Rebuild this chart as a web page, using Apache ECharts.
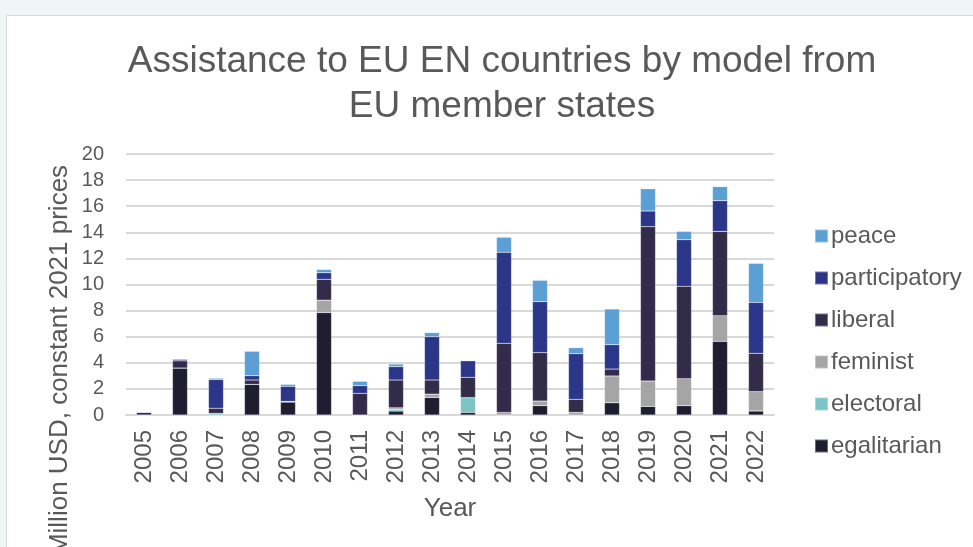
<!DOCTYPE html>
<html>
<head>
<meta charset="utf-8">
<script src="https://cdn.jsdelivr.net/npm/echarts@6/dist/echarts.min.js"></script>
<style>
  html, body { margin: 0; padding: 0; background: #eef6f8; }
  #chart { width: 973px; height: 547px; }
</style>
</head>
<body>
<div id="chart"></div>
<script>
// Years on the category axis
const years = ['2005','2006','2007','2008','2009','2010','2011','2012','2013','2014',
               '2015','2016','2017','2018','2019','2020','2021','2022'];

// Assistance by model, million USD (constant 2021 prices)
const egalitarian   = [0,    3.6,  0,    2.35, 1.0,  7.85, 0,    0.3,  1.35, 0.2,  0,    0.72, 0,    0.94, 0.66, 0.72, 5.65, 0.31];
const electoral     = [0,    0,    0.12, 0,    0,    0,    0,    0.13, 0,    1.13, 0,    0,    0,    0,    0,    0,    0,    0];
const feminist      = [0,    0,    0,    0,    0,    0.95, 0,    0.12, 0.25, 0,    0.2,  0.35, 0.2,  2.05, 1.94, 2.06, 1.96, 1.48];
const liberal       = [0.2,  0.55, 0.4,  0.33, 0.05, 1.6,  1.66, 2.13, 1.08, 1.56, 5.29, 3.71, 1.0,  0.53, 11.83,7.08, 6.46, 2.94];
const participatory = [0,    0.12, 2.2,  0.33, 1.15, 0.5,  0.59, 1.02, 3.32, 1.27, 6.98, 3.9,  3.5,  1.87, 1.2,  3.57, 2.35, 3.9];
const peace         = [0,    0,    0.1,  1.87, 0.15, 0.25, 0.33, 0.2,  0.31, 0,    1.15, 1.64, 0.46, 2.73, 1.71, 0.64, 1.08, 2.99];

// Y axis ticks
const yTicks = [0, 2, 4, 6, 8, 10, 12, 14, 16, 18, 20];

const seriesDefs = [
  { name: 'egalitarian',   data: egalitarian,   color: '#1f1d30' },
  { name: 'electoral',     data: electoral,     color: '#7cc3c4' },
  { name: 'feminist',      data: feminist,      color: '#a5a5a5' },
  { name: 'liberal',       data: liberal,       color: '#322c4a' },
  { name: 'participatory', data: participatory, color: '#2b3688' },
  { name: 'peace',         data: peace,         color: '#5b9fd4' }
];

const textColor = '#595959';
const font = 'Liberation Sans, Arial, sans-serif';

const chart = echarts.init(document.getElementById('chart'), null, { renderer: 'canvas' });

chart.setOption({
  backgroundColor: '#eef6f8',
  animation: false,
  graphic: [
    {
      type: 'rect', z: -10, silent: true,
      shape: { x: 6.5, y: 15.5, width: 980, height: 540 },
      style: { fill: '#ffffff', stroke: '#d6dadb', lineWidth: 1 }
    },
    {
      type: 'text', silent: true,
      x: 60, y: 360, rotation: Math.PI / 2,
      style: {
        text: 'Million USD, constant 2021 prices',
        fill: textColor, font: '26px ' + font,
        align: 'center', verticalAlign: 'middle'
      }
    }
  ],
  title: {
    text: 'Assistance to EU EN countries by model from\nEU member states',
    left: 497, top: 34, textAlign: 'center',
    textStyle: { color: textColor, fontSize: 37, fontWeight: 'normal', fontFamily: font, lineHeight: 45 }
  },
  legend: {
    orient: 'vertical',
    left: 809, top: 219,
    itemWidth: 13, itemHeight: 13, itemGap: 18,
    icon: 'rect',
    data: ['peace', 'participatory', 'liberal', 'feminist', 'electoral', 'egalitarian'],
    textStyle: { color: textColor, fontSize: 24, fontFamily: font, padding: [0, 0, 0, -2] }
  },
  grid: { left: 126, right: 199, top: 154, bottom: 132, containLabel: false },
  xAxis: {
    type: 'category',
    data: years,
    name: 'Year',
    nameLocation: 'middle',
    nameGap: 81,
    nameTextStyle: { color: textColor, fontSize: 26, fontFamily: font },
    axisLine: { lineStyle: { color: '#d9d9d9', width: 2 } },
    axisTick: { show: false },
    axisLabel: { rotate: 90, color: textColor, fontSize: 24, fontFamily: font, margin: 15 }
  },
  yAxis: {
    type: 'value',
    min: yTicks[0], max: yTicks[yTicks.length - 1], interval: 2,
    axisLine: { show: false },
    axisTick: { show: false },
    splitLine: { lineStyle: { color: '#d9d9d9', width: 2 } },
    axisLabel: { color: textColor, fontSize: 20, fontFamily: font, margin: 22 }
  },
  series: seriesDefs.map(s => ({
    name: s.name,
    type: 'bar',
    stack: 'total',
    barWidth: 15,
    data: s.data,
    itemStyle: { color: s.color, borderColor: 'rgba(255,255,255,0.35)', borderWidth: 0.5 }
  }))
});
</script>
</body>
</html>
